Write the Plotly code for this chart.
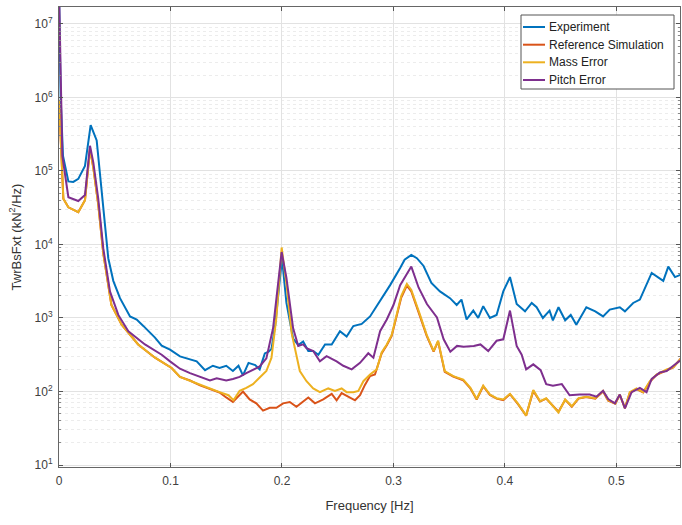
import plotly.graph_objects as go

# Experiment
exp_freq = [0.000, 0.0015, 0.0036, 0.0084, 0.0128, 0.0173, 0.0233, 0.0284, 0.0338, 0.0368,
            0.0413, 0.0442, 0.0487, 0.0547, 0.0637, 0.0697, 0.0756, 0.0861, 0.0921, 0.0996,
            0.1085, 0.1175, 0.1235, 0.131, 0.138, 0.144, 0.150, 0.156, 0.161, 0.165,
            0.170, 0.176, 0.180, 0.1846, 0.188, 0.1906, 0.194, 0.200, 0.204, 0.210,
            0.2146, 0.219, 0.2236, 0.228, 0.2326, 0.2386, 0.2446, 0.252, 0.258, 0.264,
            0.2715, 0.279, 0.288, 0.297, 0.306, 0.310, 0.316, 0.321, 0.327, 0.334,
            0.3417, 0.3507, 0.3567, 0.361, 0.3656, 0.3716, 0.376, 0.3805, 0.3865, 0.3925,
            0.3985, 0.4045, 0.4105, 0.418, 0.424, 0.4284, 0.434, 0.440, 0.443, 0.448,
            0.454, 0.459, 0.464, 0.473, 0.481, 0.488, 0.494, 0.503, 0.5076, 0.515,
            0.521, 0.5316, 0.542, 0.5465, 0.5525, 0.558]
exp_psd = [3e7, 1e6, 1.6e5, 7.2e4, 7.1e4, 7.8e4, 1.17e5, 4.2e5, 2.6e5, 8.7e4,
           1.8e4, 6.5e3, 3.2e3, 1.86e3, 1.05e3, 950, 780, 540, 420, 370,
           300, 270, 257, 195, 224, 209, 224, 190, 224, 166,
           245, 229, 200, 330, 347, 380, 810, 6.5e3, 1.6e3, 525,
           427, 480, 355, 355, 316, 437, 437, 660, 560, 776,
           830, 1.05e3, 1.7e3, 2.8e3, 4.8e3, 6.2e3, 7.2e3, 6.5e3, 5.1e3, 3.0e3,
           2.3e3, 1.86e3, 1.5e3, 1.78e3, 955, 1.26e3, 1.0e3, 1.45e3, 1.0e3, 1.1e3,
           2.3e3, 3.6e3, 1.55e3, 1.23e3, 1.6e3, 1.4e3, 1.0e3, 1.26e3, 930, 1.4e3,
           930, 1.1e3, 810, 1.4e3, 1.23e3, 1.05e3, 1.3e3, 1.4e3, 1.23e3, 1.6e3,
           1.78e3, 4.1e3, 3.2e3, 5.0e3, 3.6e3, 3.9e3]

# Reference Simulation
ref_freq = [0.000, 0.0039, 0.0084, 0.0173, 0.0233, 0.0278, 0.0308, 0.0352, 0.0397, 0.047,
            0.0562, 0.071, 0.0861, 0.101, 0.1085, 0.1175, 0.1265, 0.1354, 0.144, 0.150,
            0.156, 0.165, 0.171, 0.177, 0.183, 0.189, 0.195, 0.201, 0.207, 0.213,
            0.218, 0.2236, 0.2296, 0.237, 0.2446, 0.249, 0.2535, 0.2595, 0.2655, 0.270,
            0.2744, 0.279, 0.2834, 0.2894, 0.294, 0.2984, 0.303, 0.307, 0.312, 0.316,
            0.3238, 0.3298, 0.336, 0.340, 0.346, 0.3536, 0.3626, 0.369, 0.3746, 0.3805,
            0.3865, 0.3925, 0.3985, 0.4045, 0.4115, 0.419, 0.4254, 0.4314, 0.437, 0.448,
            0.454, 0.460, 0.466, 0.473, 0.481, 0.488, 0.4926, 0.499, 0.503, 0.5076,
            0.512, 0.518, 0.524, 0.530, 0.536, 0.545, 0.551, 0.558]
ref_psd = [9.0e5, 4.2e4, 3.2e4, 2.75e4, 4.0e4, 2.0e5, 1.1e5, 3.5e4, 7.6e3, 1.5e3,
           810, 437, 288, 209, 158, 141, 121, 108, 97, 83,
           72, 100, 78, 69, 55, 60, 60, 69, 72, 62,
           72, 83, 69, 78, 93, 76, 95, 85, 76, 89,
           123, 162, 170, 330, 425, 570, 1.05e3, 1.9e3, 2.75e3, 2.3e3,
           1.05e3, 570, 350, 480, 185, 160, 142, 110, 78, 118,
           90, 80, 76, 92, 68, 47, 102, 73, 80, 53,
           77, 62, 80, 84, 80, 100, 75, 68, 90, 60,
           96, 108, 97, 135, 168, 196, 212, 285]

# Mass Error
mass_freq = [0.000, 0.0039, 0.0084, 0.0173, 0.0233, 0.0278, 0.0308, 0.0352, 0.0397, 0.047,
             0.0562, 0.071, 0.0861, 0.101, 0.1085, 0.1175, 0.1265, 0.1354, 0.144, 0.152,
             0.1565, 0.162, 0.168, 0.174, 0.180, 0.186, 0.1906, 0.195, 0.1997, 0.204,
             0.2087, 0.2117, 0.216, 0.222, 0.228, 0.234, 0.2415, 0.2475, 0.2535, 0.258,
             0.264, 0.2685, 0.273, 0.279, 0.285, 0.2894, 0.294, 0.2984, 0.303, 0.307,
             0.312, 0.316, 0.3238, 0.3298, 0.336, 0.340, 0.346, 0.3536, 0.3626, 0.369,
             0.3746, 0.3805, 0.3865, 0.3925, 0.3985, 0.4045, 0.4115, 0.419, 0.4254, 0.4314,
             0.437, 0.448, 0.454, 0.460, 0.466, 0.473, 0.481, 0.488, 0.4926, 0.499,
             0.503, 0.5076, 0.512, 0.518, 0.524, 0.530, 0.536, 0.545, 0.551, 0.558]
mass_psd = [9.3e5, 4.2e4, 3.2e4, 2.75e4, 4.0e4, 2.0e5, 1.1e5, 3.5e4, 7.6e3, 1.5e3,
            810, 437, 288, 209, 158, 141, 123, 110, 98, 89,
            76, 102, 112, 126, 155, 190, 288, 1.02e3, 9.1e3, 2.9e3,
            617, 380, 190, 138, 110, 98, 110, 102, 110, 98,
            98, 102, 138, 170, 200, 339, 437, 589, 1.1e3, 2.0e3,
            2.9e3, 2.4e3, 1.1e3, 589, 355, 490, 190, 162, 145, 112,
            79, 120, 91, 81, 78, 93, 69, 47, 105, 74,
            81, 52, 78, 63, 81, 85, 81, 102, 76, 69,
            91, 59, 98, 110, 98, 138, 170, 200, 214, 282]

# Pitch Error
pitch_freq = [0.000, 0.0015, 0.0030, 0.0084, 0.0173, 0.0233, 0.0278, 0.0308, 0.0352, 0.0397,
              0.0457, 0.0532, 0.0622, 0.0771, 0.0921, 0.0996, 0.1085, 0.1175, 0.1265, 0.1354,
              0.1414, 0.150, 0.156, 0.162, 0.168, 0.174, 0.180, 0.186, 0.192, 0.1997,
              0.204, 0.210, 0.2146, 0.219, 0.222, 0.228, 0.234, 0.240, 0.249, 0.255,
              0.2625, 0.270, 0.2774, 0.282, 0.288, 0.294, 0.300, 0.306, 0.310, 0.316,
              0.3225, 0.330, 0.339, 0.345, 0.351, 0.357, 0.363, 0.372, 0.378, 0.385,
              0.3925, 0.3985, 0.4045, 0.4105, 0.415, 0.419, 0.4254, 0.432, 0.437, 0.443,
              0.451, 0.458, 0.467, 0.476, 0.482, 0.488, 0.4926, 0.4986, 0.503, 0.5076,
              0.5136, 0.521, 0.527, 0.5316, 0.539, 0.545, 0.551, 0.557]
pitch_psd = [3e7, 1.2e6, 1.6e5, 4.4e4, 3.9e4, 4.7e4, 2.2e5, 1.3e5, 4.2e4, 8.9e3,
             2.3e3, 1.1e3, 660, 437, 316, 257, 204, 178, 158, 141,
             151, 141, 148, 158, 178, 195, 219, 282, 724, 7.9e3,
             3.5e3, 724, 417, 437, 389, 355, 257, 302, 257, 224,
             200, 245, 331, 288, 660, 955, 1.5e3, 2.8e3, 3.5e3, 5.0e3,
             2.6e3, 1.55e3, 1.02e3, 513, 347, 417, 407, 417, 437, 355,
             490, 513, 1.26e3, 417, 316, 200, 234, 195, 126, 120,
             126, 89, 91, 91, 85, 102, 79, 69, 91, 59,
             98, 112, 98, 148, 182, 190, 224, 263]

series_names = ["Experiment", "Reference Simulation", "Mass Error", "Pitch Error"]
series_colors = ["#0072BD", "#D95319", "#EDB120", "#7E2F8E"]
series_freq = [exp_freq, ref_freq, mass_freq, pitch_freq]
series_psd = [exp_psd, ref_psd, mass_psd, pitch_psd]

x_ticks = [0, 0.1, 0.2, 0.3, 0.4, 0.5]
x_ticktext = ["0", "0.1", "0.2", "0.3", "0.4", "0.5"]
y_ticks = [1e1, 1e2, 1e3, 1e4, 1e5, 1e6, 1e7]
y_ticktext = ["10<sup>1</sup>", "10<sup>2</sup>", "10<sup>3</sup>", "10<sup>4</sup>",
              "10<sup>5</sup>", "10<sup>6</sup>", "10<sup>7</sup>"]

fig = go.Figure()
for name, f, v, c in zip(series_names, series_freq, series_psd, series_colors):
    fig.add_trace(go.Scatter(x=f, y=v, mode="lines", name=name, showlegend=False,
                             line=dict(color=c, width=2)))

# ---- MATLAB-style compact legend box (drawn in paper coordinates) ----
W, H = 682, 525
ML, MR, MT, MB = 59, 2, 7, 58
PW, PH = W - ML - MR, H - MT - MB


def px_x(p):
    return (p - ML) / PW


def px_y(p):
    return 1 - (p - MT) / PH


box_l, box_r, box_t, box_b = 521, 674, 15, 89
row_y = [27, 44.7, 62.3, 80]
shapes = [dict(type="rect", xref="paper", yref="paper",
               x0=px_x(box_l), x1=px_x(box_r), y0=px_y(box_b), y1=px_y(box_t),
               fillcolor="white", line=dict(color="#555555", width=1), layer="above")]
annotations = []
for name, c, ry in zip(series_names, series_colors, row_y):
    shapes.append(dict(type="line", xref="paper", yref="paper",
                       x0=px_x(523), x1=px_x(545), y0=px_y(ry), y1=px_y(ry),
                       line=dict(color=c, width=2), layer="above"))
    annotations.append(dict(xref="paper", yref="paper", x=px_x(546.5), y=px_y(ry),
                            text=name, showarrow=False, xanchor="left", yanchor="middle",
                            font=dict(size=12, color="#222222")))

font_family = "Liberation Sans, Arial, sans-serif"
fig.update_layout(
    width=W, height=H,
    margin=dict(l=ML, r=MR, t=MT, b=MB),
    paper_bgcolor="white", plot_bgcolor="white",
    font=dict(family=font_family, color="#333333", size=12),
    showlegend=False,
    shapes=shapes,
    annotations=annotations,
    xaxis=dict(range=[0, 0.557], tickvals=x_ticks, ticktext=x_ticktext,
               showgrid=True, gridcolor="#e2e2e2", gridwidth=1,
               ticks="inside", ticklen=4, tickcolor="#555555",
               showline=True, linecolor="#666666", linewidth=1, mirror="ticks",
               zeroline=False, tickfont=dict(size=12, color="#404040"),
               ticklabelstandoff=3,
               title=dict(text="Frequency [Hz]", font=dict(size=13, color="#333333"),
                          standoff=13)),
    yaxis=dict(type="log", range=[0.973, 7.23], tickvals=y_ticks, ticktext=y_ticktext,
               showgrid=True, gridcolor="#e2e2e2", gridwidth=1,
               ticks="inside", ticklen=4, tickcolor="#555555",
               showline=True, linecolor="#666666", linewidth=1, mirror="ticks",
               zeroline=False, tickfont=dict(size=12, color="#404040"),
               ticklabelstandoff=3,
               minor=dict(ticks="inside", ticklen=2, tickcolor="#888888",
                          showgrid=True, gridcolor="#ececec", griddash="dot",
                          dtick="D1"),
               title=dict(text="TwrBsFxt (kN<sup>2</sup>/Hz)",
                          font=dict(size=13, color="#333333"), standoff=10)),
)

fig.write_html("out.html")
